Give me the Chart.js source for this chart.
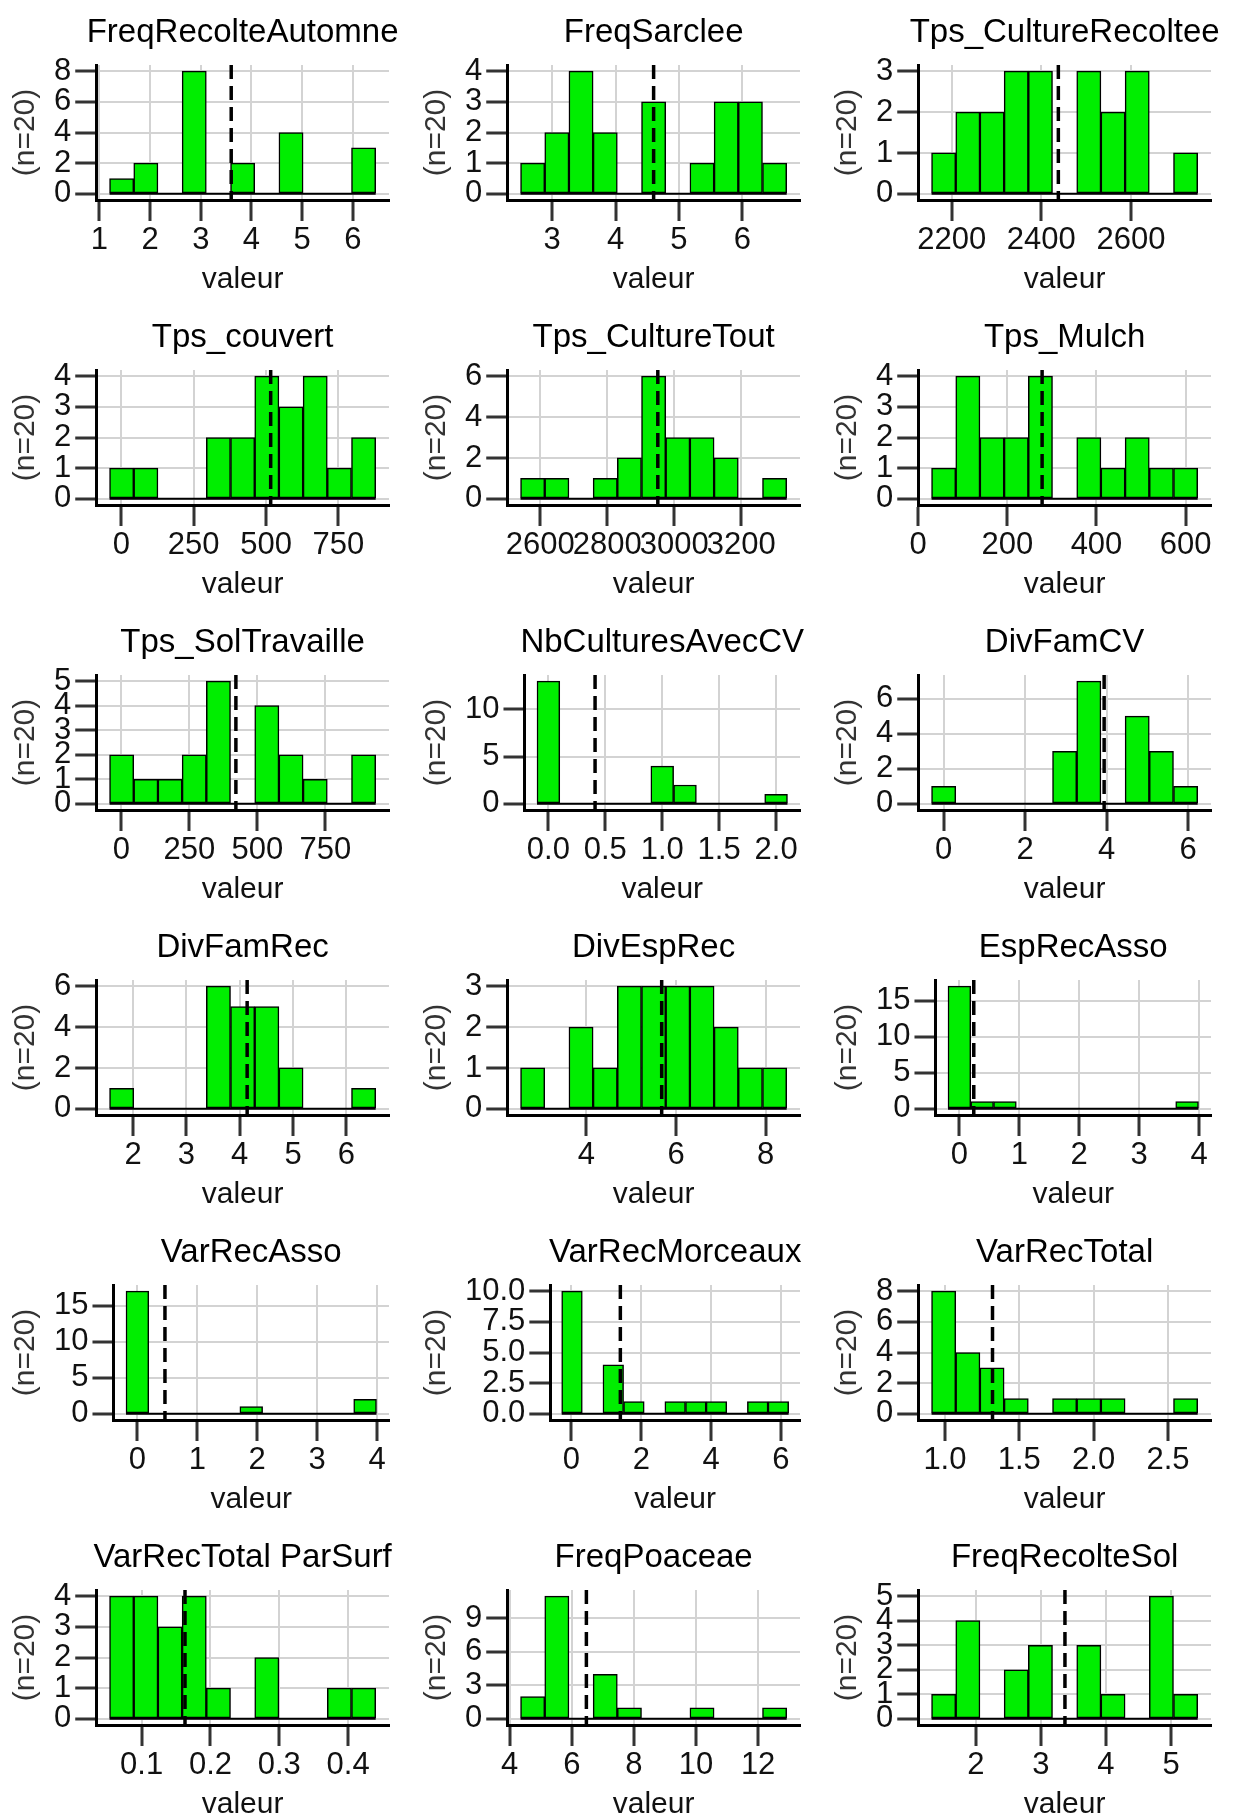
<!DOCTYPE html>
<html>
<head>
<meta charset="utf-8">
<script src="https://cdn.jsdelivr.net/npm/chart.js@4.4.1/dist/chart.umd.min.js"></script>
<style>
  body { margin: 0; background: #fff; overflow: hidden; }
  #grid { display: grid; grid-template-columns: repeat(3, 411px); grid-auto-rows: 305px; width: 1233px; }
  canvas { display: block; }
</style>
</head>
<body>
<div id="grid"></div>
<script>
// one histogram per variable, 11 bins each, n = 20
const titles = ['FreqRecolteAutomne', 'FreqSarclee', 'Tps_CultureRecoltee',
  'Tps_couvert', 'Tps_CultureTout', 'Tps_Mulch',
  'Tps_SolTravaille', 'NbCulturesAvecCV', 'DivFamCV',
  'DivFamRec', 'DivEspRec', 'EspRecAsso',
  'VarRecAsso', 'VarRecMorceaux', 'VarRecTotal',
  'VarRecTotal ParSurf', 'FreqPoaceae', 'FreqRecolteSol'];

// left edge of first bin / right edge of last bin
const binStart = [1.2, 2.5, 2155, -41, 2541, 30, -43.5, -0.1, -0.297, 1.56, 2.53, -0.19, -0.19, -0.28, 0.91, 0.0534, 4.35, 1.32];
const binEnd = [6.45, 6.7, 2749, 879, 3336, 627, 935, 2.1, 6.237, 6.55, 8.47, 3.99, 3.99, 6.22, 2.70, 0.44, 12.92, 5.41];

const counts = [
  [1, 2, 0, 8, 0, 2, 0, 4, 0, 0, 3],
  [1, 2, 4, 2, 0, 3, 0, 1, 3, 3, 1],
  [1, 2, 2, 3, 3, 0, 3, 2, 3, 0, 1],
  [1, 1, 0, 0, 2, 2, 4, 3, 4, 1, 2],
  [1, 1, 0, 1, 2, 6, 3, 3, 2, 0, 1],
  [1, 4, 2, 2, 4, 0, 2, 1, 2, 1, 1],
  [2, 1, 1, 2, 5, 0, 4, 2, 1, 0, 2],
  [13, 0, 0, 0, 0, 4, 2, 0, 0, 0, 1],
  [1, 0, 0, 0, 0, 3, 7, 0, 5, 3, 1],
  [1, 0, 0, 0, 6, 5, 5, 2, 0, 0, 1],
  [1, 0, 2, 1, 3, 3, 3, 3, 2, 1, 1],
  [17, 1, 1, 0, 0, 0, 0, 0, 0, 0, 1],
  [17, 0, 0, 0, 0, 1, 0, 0, 0, 0, 2],
  [10, 0, 4, 1, 0, 1, 1, 1, 0, 1, 1],
  [8, 4, 3, 1, 0, 1, 1, 1, 0, 0, 1],
  [4, 4, 3, 4, 1, 0, 2, 0, 0, 1, 1],
  [2, 11, 0, 4, 1, 0, 0, 1, 0, 0, 1],
  [1, 4, 0, 2, 3, 0, 3, 1, 0, 5, 1]
];

const means = [3.6, 4.6, 2438, 516, 2951, 278, 421, 0.41, 3.94, 4.14, 5.68, 0.24, 0.46, 1.4, 1.32, 0.163, 6.47, 3.37];

const xTickLabels = [
  ['1', '2', '3', '4', '5', '6'], ['3', '4', '5', '6'], ['2200', '2400', '2600'],
  ['0', '250', '500', '750'], ['2600', '2800', '3000', '3200'], ['0', '200', '400', '600'],
  ['0', '250', '500', '750'], ['0.0', '0.5', '1.0', '1.5', '2.0'], ['0', '2', '4', '6'],
  ['2', '3', '4', '5', '6'], ['4', '6', '8'], ['0', '1', '2', '3', '4'],
  ['0', '1', '2', '3', '4'], ['0', '2', '4', '6'], ['1.0', '1.5', '2.0', '2.5'],
  ['0.1', '0.2', '0.3', '0.4'], ['4', '6', '8', '10', '12'], ['2', '3', '4', '5']
];

const yTickLabels = [
  ['0', '2', '4', '6', '8'], ['0', '1', '2', '3', '4'], ['0', '1', '2', '3'],
  ['0', '1', '2', '3', '4'], ['0', '2', '4', '6'], ['0', '1', '2', '3', '4'],
  ['0', '1', '2', '3', '4', '5'], ['0', '5', '10'], ['0', '2', '4', '6'],
  ['0', '2', '4', '6'], ['0', '1', '2', '3'], ['0', '5', '10', '15'],
  ['0', '5', '10', '15'], ['0.0', '2.5', '5.0', '7.5', '10.0'], ['0', '2', '4', '6', '8'],
  ['0', '1', '2', '3', '4'], ['0', '3', '6', '9'], ['0', '1', '2', '3', '4', '5']
];

const FONT = "'Liberation Sans', Arial, sans-serif";
const BAR_GREEN = '#00EE00';

// title centred over the plot panel, like ggplot does
const panelTitle = {
  id: 'panelTitle',
  afterDraw(chart, args, opts) {
    const { ctx, chartArea } = chart;
    ctx.save();
    ctx.font = '33px ' + FONT;
    ctx.fillStyle = '#000';
    ctx.textAlign = 'center';
    ctx.textBaseline = 'middle';
    ctx.fillText(opts.text, (chartArea.left + chartArea.right) / 2, 33);
    ctx.restore();
  }
};

const grid = document.getElementById('grid');

titles.forEach((title, i) => {
  const cv = document.createElement('canvas');
  cv.width = 411;
  cv.height = 305;
  grid.appendChild(cv);

  const nb = counts[i].length;
  const span = binEnd[i] - binStart[i];
  const w = span / nb;
  const bars = counts[i].map((c, k) => ({ x: binStart[i] + w * (k + 0.5), y: c }));
  const top = Math.max(...counts[i]);
  const xMin = binStart[i] - 0.05 * span;
  const xMax = binEnd[i] + 0.05 * span;
  const yMin = -0.05 * top;
  const yMax = 1.05 * top;

  new Chart(cv, {
    type: 'bar',
    data: {
      datasets: [
        {
          type: 'line',
          data: [{ x: means[i], y: yMax }, { x: means[i], y: yMin }],
          borderColor: '#000',
          borderWidth: 3.5,
          borderDash: [14, 7],
          pointRadius: 0,
          order: 0
        },
        {
          type: 'line',
          data: [{ x: binStart[i], y: 0 }, { x: binEnd[i], y: 0 }],
          borderColor: '#000',
          borderWidth: 2,
          pointRadius: 0,
          order: 1
        },
        {
          data: bars,
          backgroundColor: BAR_GREEN,
          borderColor: '#000',
          borderWidth: 1.5,
          borderSkipped: false,
          barPercentage: 1,
          categoryPercentage: 1,
          order: 2
        }
      ]
    },
    options: {
      responsive: false,
      animation: false,
      layout: { padding: { left: 11, right: 22, top: 65, bottom: 5 } },
      plugins: {
        legend: { display: false },
        tooltip: { enabled: false },
        panelTitle: { text: title }
      },
      scales: {
        x: {
          type: 'linear',
          min: xMin,
          max: xMax,
          offset: false,
          grid: { offset: false, color: '#d3d3d3', lineWidth: 2, tickColor: '#333', tickWidth: 3, tickLength: 21 },
          border: { display: true, color: '#000', width: 3 },
          afterBuildTicks: s => { s.ticks = xTickLabels[i].map(t => ({ value: Number(t) })); },
          ticks: {
            color: '#111', autoSkip: false, maxRotation: 0, padding: 4,
            font: { family: FONT, size: 31, lineHeight: 1 },
            callback: (v, k) => xTickLabels[i][k]
          },
          title: {
            display: true, text: 'valeur', color: '#111',
            font: { family: FONT, size: 30, lineHeight: 1 },
            padding: { top: 5, bottom: 5 }
          }
        },
        y: {
          min: yMin,
          max: yMax,
          grid: { color: '#d3d3d3', lineWidth: 2, tickColor: '#333', tickWidth: 3, tickLength: 21 },
          border: { display: true, color: '#000', width: 3 },
          afterBuildTicks: s => { s.ticks = yTickLabels[i].map(t => ({ value: Number(t) })); },
          ticks: {
            color: '#111', autoSkip: false, padding: 4,
            font: { family: FONT, size: 31, lineHeight: 1 },
            callback: (v, k) => yTickLabels[i][k]
          },
          title: {
            display: true, text: '(n=20)', color: '#333',
            font: { family: FONT, size: 30, lineHeight: 1 },
            padding: { top: 0, bottom: 9 }
          }
        }
      }
    },
    plugins: [panelTitle]
  });
});
</script>
</body>
</html>
